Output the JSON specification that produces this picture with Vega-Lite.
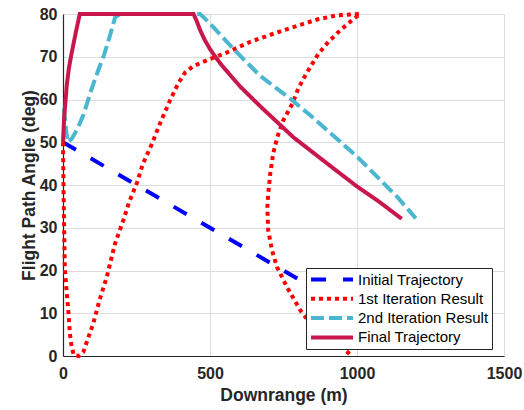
{
  "$schema": "https://vega.github.io/schema/vega-lite/v6.json",
  "width": 441,
  "height": 342,
  "autosize": {"type": "none"},
  "padding": {"left": 63, "top": 14, "right": 20, "bottom": 54},
  "background": "white",
  "config": {
    "view": {"stroke": null},
    "font": "Liberation Sans",
    "axis": {
      "labelFont": "Liberation Sans",
      "labelFontSize": 16,
      "labelFontWeight": "bold",
      "labelColor": "#262626",
      "titleFont": "Liberation Sans",
      "titleFontSize": 17.5,
      "titleFontWeight": "bold",
      "titleColor": "#262626",
      "domainColor": "#262626",
      "domainWidth": 1.2,
      "gridColor": "#dcdcdc",
      "gridWidth": 1,
      "ticks": false
    }
  },
  "data": {
    "values": [
      {"series": "Initial Trajectory", "i": 0, "x": 0, "y": 50},
      {"series": "Initial Trajectory", "i": 1, "x": 1000, "y": 10},

      {"series": "1st Iteration Result", "i": 0, "x": 0, "y": 50},
      {"series": "1st Iteration Result", "i": 1, "x": 2, "y": 38},
      {"series": "1st Iteration Result", "i": 2, "x": 6, "y": 20.8},
      {"series": "1st Iteration Result", "i": 3, "x": 12, "y": 15.4},
      {"series": "1st Iteration Result", "i": 4, "x": 18, "y": 10.7},
      {"series": "1st Iteration Result", "i": 5, "x": 23.5, "y": 5.2},
      {"series": "1st Iteration Result", "i": 6, "x": 29.6, "y": 2.1},
      {"series": "1st Iteration Result", "i": 7, "x": 37, "y": 0.2},
      {"series": "1st Iteration Result", "i": 8, "x": 54, "y": 0},
      {"series": "1st Iteration Result", "i": 9, "x": 69, "y": 0.9},
      {"series": "1st Iteration Result", "i": 10, "x": 83, "y": 3.7},
      {"series": "1st Iteration Result", "i": 11, "x": 103, "y": 7.6},
      {"series": "1st Iteration Result", "i": 12, "x": 124, "y": 13},
      {"series": "1st Iteration Result", "i": 13, "x": 149, "y": 18.5},
      {"series": "1st Iteration Result", "i": 14, "x": 177, "y": 26.3},
      {"series": "1st Iteration Result", "i": 15, "x": 205, "y": 31.7},
      {"series": "1st Iteration Result", "i": 16, "x": 225, "y": 36},
      {"series": "1st Iteration Result", "i": 17, "x": 252, "y": 40.6},
      {"series": "1st Iteration Result", "i": 18, "x": 272, "y": 45},
      {"series": "1st Iteration Result", "i": 19, "x": 303, "y": 49.7},
      {"series": "1st Iteration Result", "i": 20, "x": 330, "y": 54.4},
      {"series": "1st Iteration Result", "i": 21, "x": 364, "y": 59.8},
      {"series": "1st Iteration Result", "i": 22, "x": 392, "y": 63.8},
      {"series": "1st Iteration Result", "i": 23, "x": 415, "y": 66.3},
      {"series": "1st Iteration Result", "i": 24, "x": 443, "y": 67.8},
      {"series": "1st Iteration Result", "i": 25, "x": 490, "y": 69.2},
      {"series": "1st Iteration Result", "i": 26, "x": 558, "y": 71},
      {"series": "1st Iteration Result", "i": 27, "x": 637, "y": 73.5},
      {"series": "1st Iteration Result", "i": 28, "x": 750, "y": 76.2},
      {"series": "1st Iteration Result", "i": 29, "x": 864, "y": 78.7},
      {"series": "1st Iteration Result", "i": 30, "x": 932, "y": 79.7},
      {"series": "1st Iteration Result", "i": 31, "x": 1011, "y": 80},
      {"series": "1st Iteration Result", "i": 32, "x": 989, "y": 78.9},
      {"series": "1st Iteration Result", "i": 33, "x": 943, "y": 76.2},
      {"series": "1st Iteration Result", "i": 34, "x": 903, "y": 73.5},
      {"series": "1st Iteration Result", "i": 35, "x": 869, "y": 70.7},
      {"series": "1st Iteration Result", "i": 36, "x": 841, "y": 67.6},
      {"series": "1st Iteration Result", "i": 37, "x": 818, "y": 64.9},
      {"series": "1st Iteration Result", "i": 38, "x": 800, "y": 62.5},
      {"series": "1st Iteration Result", "i": 39, "x": 780, "y": 59},
      {"series": "1st Iteration Result", "i": 40, "x": 749, "y": 55.1},
      {"series": "1st Iteration Result", "i": 41, "x": 729, "y": 51.2},
      {"series": "1st Iteration Result", "i": 42, "x": 715, "y": 47.4},
      {"series": "1st Iteration Result", "i": 43, "x": 705, "y": 42.7},
      {"series": "1st Iteration Result", "i": 44, "x": 698, "y": 37.9},
      {"series": "1st Iteration Result", "i": 45, "x": 695, "y": 34.8},
      {"series": "1st Iteration Result", "i": 46, "x": 698, "y": 29.4},
      {"series": "1st Iteration Result", "i": 47, "x": 711, "y": 24.7},
      {"series": "1st Iteration Result", "i": 48, "x": 728, "y": 20.8},
      {"series": "1st Iteration Result", "i": 49, "x": 762, "y": 16.1},
      {"series": "1st Iteration Result", "i": 50, "x": 807, "y": 10.7},
      {"series": "1st Iteration Result", "i": 51, "x": 851, "y": 6.7},
      {"series": "1st Iteration Result", "i": 52, "x": 932, "y": 2.9},
      {"series": "1st Iteration Result", "i": 53, "x": 984, "y": 0},

      {"series": "2nd Iteration Result", "i": 0, "x": 3, "y": 58},
      {"series": "2nd Iteration Result", "i": 1, "x": 10, "y": 53},
      {"series": "2nd Iteration Result", "i": 2, "x": 17, "y": 50},
      {"series": "2nd Iteration Result", "i": 3, "x": 30, "y": 50.8},
      {"series": "2nd Iteration Result", "i": 4, "x": 48, "y": 53},
      {"series": "2nd Iteration Result", "i": 5, "x": 70, "y": 56.5},
      {"series": "2nd Iteration Result", "i": 6, "x": 85, "y": 59.8},
      {"series": "2nd Iteration Result", "i": 7, "x": 100, "y": 63},
      {"series": "2nd Iteration Result", "i": 8, "x": 118, "y": 66.5},
      {"series": "2nd Iteration Result", "i": 9, "x": 140, "y": 70.5},
      {"series": "2nd Iteration Result", "i": 10, "x": 160, "y": 75},
      {"series": "2nd Iteration Result", "i": 11, "x": 177, "y": 79.2},
      {"series": "2nd Iteration Result", "i": 12, "x": 194, "y": 80},
      {"series": "2nd Iteration Result", "i": 13, "x": 466, "y": 80},
      {"series": "2nd Iteration Result", "i": 14, "x": 485, "y": 78.8},
      {"series": "2nd Iteration Result", "i": 15, "x": 520, "y": 76.3},
      {"series": "2nd Iteration Result", "i": 16, "x": 560, "y": 73.3},
      {"series": "2nd Iteration Result", "i": 17, "x": 613, "y": 69.5},
      {"series": "2nd Iteration Result", "i": 18, "x": 671, "y": 65.5},
      {"series": "2nd Iteration Result", "i": 19, "x": 773, "y": 60.2},
      {"series": "2nd Iteration Result", "i": 20, "x": 841, "y": 56.3},
      {"series": "2nd Iteration Result", "i": 21, "x": 943, "y": 50.1},
      {"series": "2nd Iteration Result", "i": 22, "x": 1001, "y": 46.6},
      {"series": "2nd Iteration Result", "i": 23, "x": 1069, "y": 41.9},
      {"series": "2nd Iteration Result", "i": 24, "x": 1137, "y": 37.2},
      {"series": "2nd Iteration Result", "i": 25, "x": 1200, "y": 32.2},

      {"series": "Final Trajectory", "i": 0, "x": 0, "y": 50},
      {"series": "Final Trajectory", "i": 1, "x": 4, "y": 56},
      {"series": "Final Trajectory", "i": 2, "x": 9, "y": 60},
      {"series": "Final Trajectory", "i": 3, "x": 13, "y": 63.5},
      {"series": "Final Trajectory", "i": 4, "x": 20, "y": 67.3},
      {"series": "Final Trajectory", "i": 5, "x": 29, "y": 70.7},
      {"series": "Final Trajectory", "i": 6, "x": 43, "y": 75.5},
      {"series": "Final Trajectory", "i": 7, "x": 57, "y": 80},
      {"series": "Final Trajectory", "i": 8, "x": 444, "y": 80},
      {"series": "Final Trajectory", "i": 9, "x": 455, "y": 78.3},
      {"series": "Final Trajectory", "i": 10, "x": 466, "y": 76.3},
      {"series": "Final Trajectory", "i": 11, "x": 483, "y": 73.8},
      {"series": "Final Trajectory", "i": 12, "x": 500, "y": 71.8},
      {"series": "Final Trajectory", "i": 13, "x": 517, "y": 70.1},
      {"series": "Final Trajectory", "i": 14, "x": 540, "y": 68},
      {"series": "Final Trajectory", "i": 15, "x": 603, "y": 63},
      {"series": "Final Trajectory", "i": 16, "x": 671, "y": 58.4},
      {"series": "Final Trajectory", "i": 17, "x": 783, "y": 51.2},
      {"series": "Final Trajectory", "i": 18, "x": 899, "y": 45},
      {"series": "Final Trajectory", "i": 19, "x": 1001, "y": 39.6},
      {"series": "Final Trajectory", "i": 20, "x": 1069, "y": 36.4},
      {"series": "Final Trajectory", "i": 21, "x": 1152, "y": 32.1}
    ]
  },
  "mark": {"type": "line", "strokeWidth": 4, "strokeCap": "butt", "strokeJoin": "miter", "clip": false},
  "encoding": {
    "x": {
      "field": "x", "type": "quantitative",
      "scale": {"domain": [0, 1500], "nice": false},
      "axis": {"values": [0, 500, 1000, 1500], "format": "d", "title": "Downrange (m)", "labelPadding": 9, "titlePadding": 5, "labelFlush": false, "labelOverlap": false}
    },
    "y": {
      "field": "y", "type": "quantitative",
      "scale": {"domain": [0, 80], "nice": false},
      "axis": {"values": [0, 10, 20, 30, 40, 50, 60, 70, 80], "format": "d", "title": "Flight Path Angle (deg)", "labelPadding": 6, "titlePadding": 1, "labelFlush": false, "labelOverlap": false}
    },
    "order": {"field": "i", "type": "quantitative"},
    "color": {
      "field": "series", "type": "nominal",
      "scale": {
        "domain": ["Initial Trajectory", "1st Iteration Result", "2nd Iteration Result", "Final Trajectory"],
        "range": ["#0000ff", "#ff0000", "#4bb6d0", "#c8174c"]
      },
      "legend": {"title": null, "orient": "none", "legendX": 243, "legendY": 254, "symbolType": "stroke", "symbolSize": 1764, "symbolStrokeWidth": 4, "clipHeight": 17, "rowPadding": 2.3, "padding": 3, "labelFontSize": 15, "labelFont": "Liberation Sans", "labelColor": "#000000", "labelOffset": 3, "strokeColor": "#262626", "fillColor": "white", "cornerRadius": 0, "labelLimit": 300}
    },
    "strokeDash": {
      "field": "series", "type": "nominal",
      "scale": {
        "domain": ["Initial Trajectory", "1st Iteration Result", "2nd Iteration Result", "Final Trajectory"],
        "range": [[15, 17], [4, 4], [13, 5], [1, 0]]
      },
      "legend": {"title": null, "orient": "none", "legendX": 243, "legendY": 254, "symbolType": "stroke", "symbolSize": 1764, "symbolStrokeWidth": 4, "clipHeight": 17, "rowPadding": 2.3, "padding": 3, "labelFontSize": 15, "labelFont": "Liberation Sans", "labelColor": "#000000", "labelOffset": 3, "strokeColor": "#262626", "fillColor": "white", "cornerRadius": 0, "labelLimit": 300}
    }
  }
}
